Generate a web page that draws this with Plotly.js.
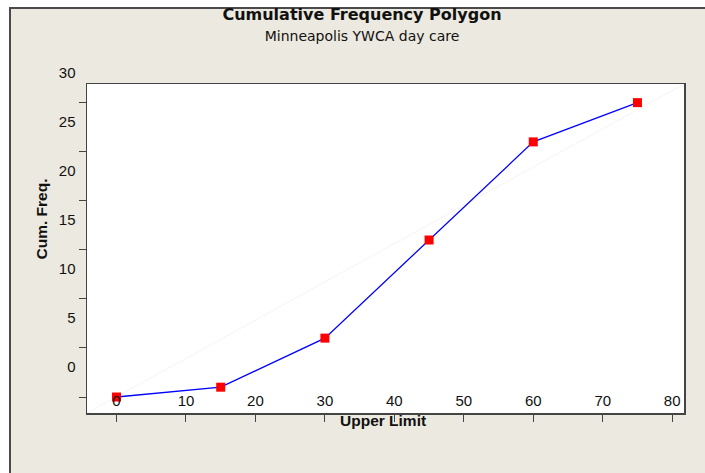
<!DOCTYPE html>
<html>
<head>
<meta charset="utf-8">
<script src="https://cdn.plot.ly/plotly-3.0.1.min.js"></script>
<style>
  body { margin: 0; background: #ffffff; overflow: hidden; }
  #frame {
    position: absolute; left: 9px; top: 7px; width: 800px; height: 600px;
    background: #ece9e0; border-left: 2px solid #4a4a4a; border-top: 2px solid #4a4a4a;
  }
  #chart { position: absolute; left: 0; top: 0; width: 705px; height: 473px; }
</style>
</head>
<body>
<div id="frame"></div>
<div id="chart"></div>
<script>
// cumulative frequency polygon, Minneapolis YWCA day care
upper_limit = [0, 15, 30, 45, 60, 75]
cum_freq = [0, 1, 6, 16, 26, 30]

x_ticks = [0, 10, 20, 30, 40, 50, 60, 70, 80]
y_ticks = [0, 5, 10, 15, 20, 25, 30]

var trace1 = {
  x: upper_limit,
  y: cum_freq,
  type: 'scatter',
  mode: 'lines+markers',
  line: { color: '#0000ff', width: 1.3 },
  marker: { symbol: 'square', size: 9, color: '#ff0000' },
  cliponaxis: false,
  hoverinfo: 'skip'
}

var tickFont = { family: 'Liberation Sans, Arial, sans-serif', size: 15, color: '#111' }
var axTitleFont = { family: 'Liberation Sans, Arial, sans-serif', size: 15.5, color: '#111', weight: 'bold' }

var layout = {
  width: 705,
  height: 473,
  margin: { l: 87, r: 21, t: 84, b: 60 },
  paper_bgcolor: 'rgba(0,0,0,0)',
  plot_bgcolor: '#ffffff',
  showlegend: false,
  title: {
    text: '<b>Cumulative Frequency Polygon</b><br><span style="font-size:14px">Minneapolis YWCA day care</span>',
    font: { family: 'DejaVu Sans, sans-serif', size: 16, color: '#111' },
    xref: 'container', x: 362 / 705, xanchor: 'center',
    yref: 'container', y: 1 - 20 / 473, yanchor: 'middle'
  },
  xaxis: {
    range: [-4.25, 81.7],
    tickvals: x_ticks,
    ticks: 'outside', ticklen: 7, tickcolor: '#444', tickwidth: 1,
    ticklabelstandoff: -34,
    tickfont: tickFont,
    showline: true, mirror: true, linecolor: '#444', linewidth: 1.5,
    showgrid: false, zeroline: false
  },
  yaxis: {
    range: [-1.63, 31.9],
    tickvals: y_ticks,
    ticks: 'outside', ticklen: 7, tickcolor: '#444', tickwidth: 1,
    ticklabelshift: -30,
    tickfont: tickFont,
    showline: true, mirror: true, linecolor: '#444', linewidth: 1.5,
    showgrid: false, zeroline: false
  },
  shapes: [
    {
      // faint reference diagonal across the plot area
      type: 'line', layer: 'below',
      xref: 'x domain', yref: 'y domain', x0: 0, y0: 0, x1: 1, y1: 1,
      line: { color: '#f4f4f4', width: 1 }
    }
  ],
  annotations: [
    {
      text: 'Upper Limit', showarrow: false,
      xref: 'paper', yref: 'paper', x: (382.5 - 87) / 597, y: (413 - 420) / 329,
      xanchor: 'center', yanchor: 'middle', font: axTitleFont
    },
    {
      text: 'Cum. Freq.', showarrow: false, textangle: -90,
      xref: 'paper', yref: 'paper', x: (40.5 - 87) / 597, y: (413 - 219) / 329,
      xanchor: 'center', yanchor: 'middle', font: axTitleFont
    }
  ]
}

var data = [trace1]

Plotly.newPlot('chart', data, layout, { displayModeBar: false, staticPlot: true })
</script>
</body>
</html>
